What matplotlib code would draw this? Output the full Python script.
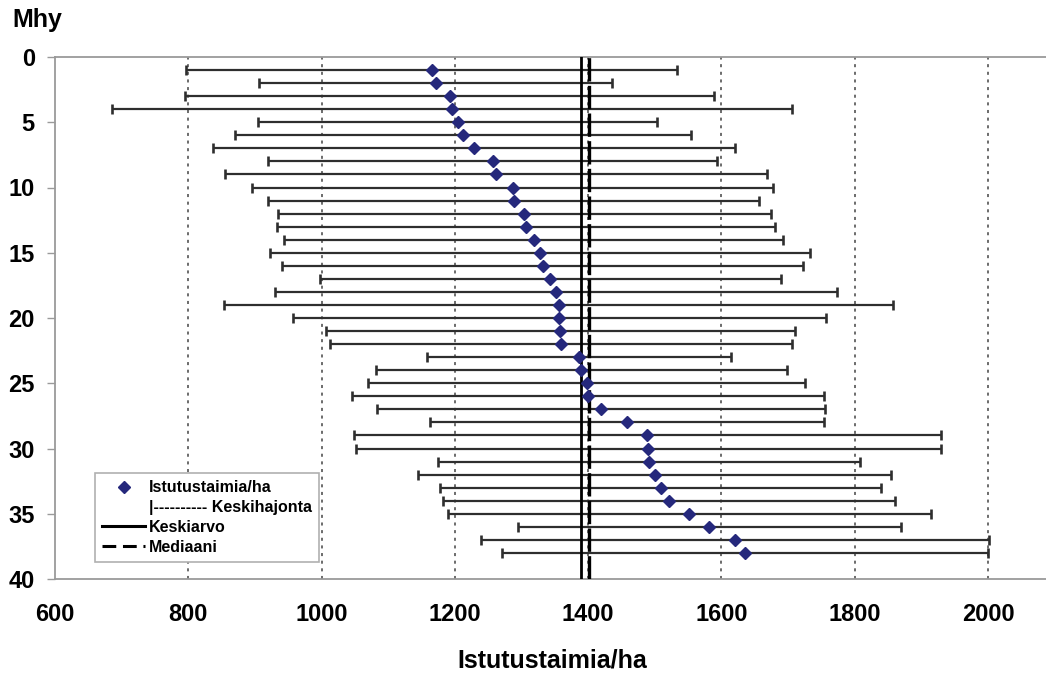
import matplotlib
matplotlib.use("Agg")
import matplotlib.pyplot as plt
from matplotlib.lines import Line2D

# ---- data ----
mhy = list(range(1, 39))
taimia = [1165, 1171, 1192, 1196, 1204, 1212, 1229, 1257, 1262, 1287,
          1288, 1304, 1307, 1318, 1328, 1332, 1343, 1352, 1356, 1357,
          1358, 1359, 1386, 1390, 1398, 1400, 1419, 1458, 1489, 1490,
          1491, 1500, 1509, 1521, 1552, 1582, 1620, 1635]
keskihajonta = [369, 265, 397, 510, 300, 342, 392, 337, 407, 391,
                368, 370, 374, 374, 405, 391, 346, 422, 502, 400,
                352, 347, 228, 308, 328, 354, 336, 296, 441, 439,
                317, 355, 331, 339, 362, 287, 381, 365]
keskiarvo = 1390
mediaani = 1401
x_ticks = [600, 800, 1000, 1200, 1400, 1600, 1800, 2000]
y_ticks = [0, 5, 10, 15, 20, 25, 30, 35, 40]
grid_x = [800, 1000, 1200, 1400, 1600, 1800, 2000]

plt.rcParams['font.family'] = ['Liberation Sans', 'DejaVu Sans']
plt.rcParams['font.weight'] = 'bold'

W, H = 1046, 675
fig = plt.figure(figsize=(W / 100, H / 100), dpi=100)
ax = fig.add_axes([55 / W, 1 - 579 / H, 991 / W, 522 / H])

ax.set_xlim(600, 2087)
ax.set_ylim(40, 0)

# grid
for gx in grid_x:
    ax.axvline(gx, color='#444444', lw=1.1, dashes=(2, 3.0), zorder=1)

# error bars
ax.errorbar(taimia, mhy, xerr=keskihajonta, fmt='none', ecolor='#2e2e2e',
            elinewidth=1.6, capsize=3.8, capthick=1.9, zorder=2)

# mean & median
ax.axvline(keskiarvo, color='black', lw=2.0, zorder=3)
ax.axvline(mediaani, color='black', lw=2.4, dashes=(7, 1.3), zorder=3)

# points
ax.plot(taimia, mhy, linestyle='none', marker='D', ms=6.5,
        color='#25287c', zorder=4)

# axes style
ax.spines['right'].set_visible(False)
for s in ['left', 'top', 'bottom']:
    ax.spines[s].set_color('#9a9a9a')
    ax.spines[s].set_linewidth(1.3)

ax.set_xticks(x_ticks)
ax.set_xticklabels([str(v) for v in x_ticks], fontsize=17, fontweight='bold')
ax.set_yticks(y_ticks)
ax.set_yticklabels([str(v) for v in y_ticks], fontsize=17, fontweight='bold')
ax.tick_params(axis='x', length=0, pad=17)
ax.tick_params(axis='y', direction='out', length=6, width=1.0,
               color='#9a9a9a', pad=8.5)

fig.text(552 / W, 1 - 661 / H, 'Istutustaimia/ha', ha='center', va='center',
         fontsize=18, fontweight='bold')
fig.text(12 / W, 1 - 20 / H, 'Mhy', ha='left', va='center',
         fontsize=18, fontweight='bold')

# legend
handles = [
    Line2D([], [], linestyle='none', marker='D', ms=6, color='#25287c'),
    Line2D([], [], linestyle='none'),
    Line2D([], [], color='black', lw=2.2),
    Line2D([], [], color='black', lw=2.2, dashes=(4.5, 2.2)),
]
labels = ['Istutustaimia/ha', '|---------- Keskihajonta', 'Keskiarvo', 'Mediaani']
leg = ax.legend(handles, labels, loc='lower left',
                bbox_to_anchor=(40 / 991, 17 / 522), borderaxespad=0,
                prop={'size': 11.5, 'weight': 'bold'}, handlelength=2.7,
                handletextpad=0.25, borderpad=0.45, labelspacing=0.3,
                fancybox=False, framealpha=1, edgecolor='#b0b0b0')
leg.get_frame().set_linewidth(1.2)

fig.savefig('out.png', dpi=100)
